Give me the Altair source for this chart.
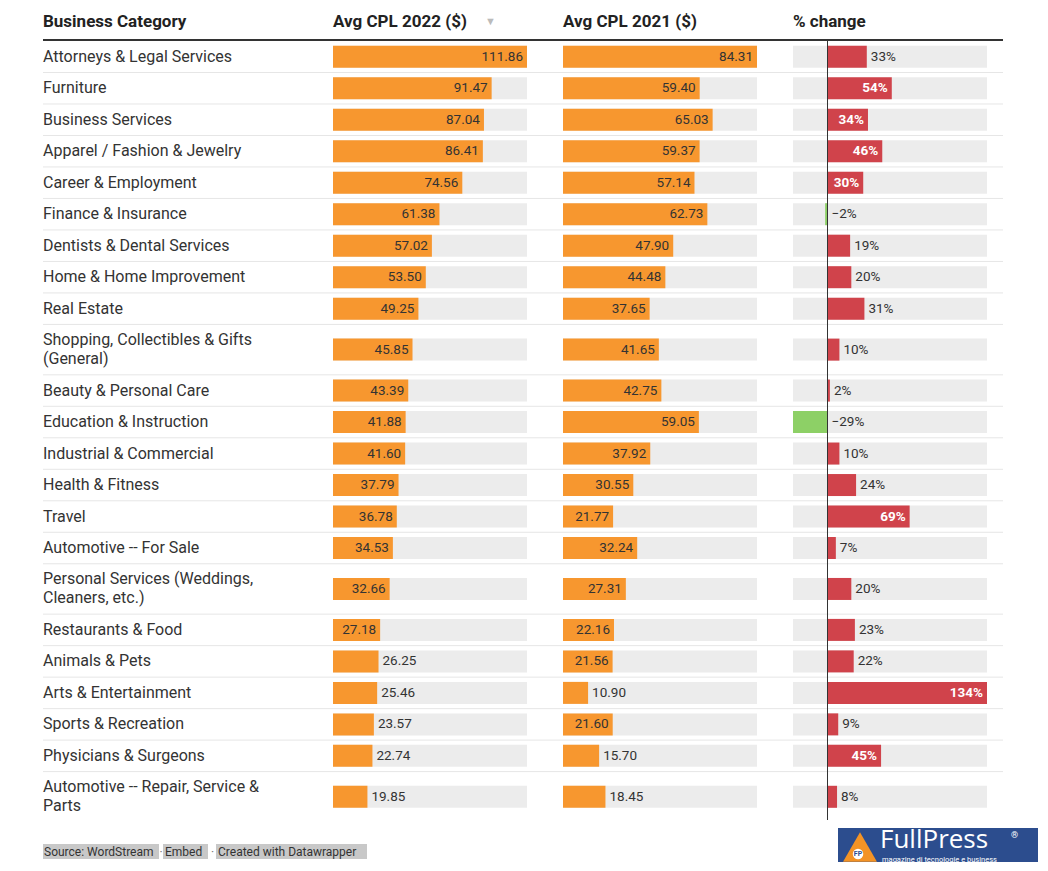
import altair as alt
import pandas as pd

categories = [
    "Attorneys & Legal Services", "Furniture", "Business Services",
    "Apparel / Fashion & Jewelry", "Career & Employment", "Finance & Insurance",
    "Dentists & Dental Services", "Home & Home Improvement", "Real Estate",
    "Shopping, Collectibles & Gifts\n(General)", "Beauty & Personal Care",
    "Education & Instruction", "Industrial & Commercial", "Health & Fitness",
    "Travel", "Automotive -- For Sale", "Personal Services (Weddings,\nCleaners, etc.)",
    "Restaurants & Food", "Animals & Pets", "Arts & Entertainment",
    "Sports & Recreation", "Physicians & Surgeons",
    "Automotive -- Repair, Service &\nParts",
]
cpl_2022 = [111.86, 91.47, 87.04, 86.41, 74.56, 61.38, 57.02, 53.50, 49.25, 45.85,
            43.39, 41.88, 41.60, 37.79, 36.78, 34.53, 32.66, 27.18, 26.25, 25.46,
            23.57, 22.74, 19.85]
cpl_2021 = [84.31, 59.40, 65.03, 59.37, 57.14, 62.73, 47.90, 44.48, 37.65, 41.65,
            42.75, 59.05, 37.92, 30.55, 21.77, 32.24, 27.31, 22.16, 21.56, 10.90,
            21.60, 15.70, 18.45]
pct_change = [33, 54, 34, 46, 30, -2, 19, 20, 31, 10, 2, -29, 10, 24, 69, 7, 20, 23,
              22, 134, 9, 45, 8]
pct_label_inside = [False, True, True, True, True, False, False, False, False, False,
                    False, False, False, False, True, False, False, False, False, True,
                    False, True, False]
headers = ["Business Category", "Avg CPL 2022 ($)", "Avg CPL 2021 ($)", "% change"]
footer_parts = ["Source: WordStream", "Embed", "Created with Datawrapper"]

FONT = "Roboto"
ORANGE = "#f7972f"
RED = "#d0434b"
GREEN = "#8dd066"
BG = "#ececec"
LINE = "#e6e6e6"
TEXT = "#333333"
BAR_W = 194
BAR_H = 22
H = 781

rows = pd.DataFrame({
    "category": categories,
    "cpl_2022": cpl_2022,
    "cpl_2021": cpl_2021,
    "pct": pct_change,
    "pct_in": pct_label_inside,
})
rows["multi"] = ["\n" in c for c in categories]
rows["h"] = [1.6 if m else 1.0 for m in rows["multi"]]
rows["top"] = rows["h"].cumsum() - rows["h"]
rows["center"] = rows["top"] + rows["h"] / 2
rows["bottom"] = rows["top"] + rows["h"]
rows["is_last"] = rows.index == len(rows) - 1
total = float(rows["h"].sum())

max22, max21 = max(cpl_2022), max(cpl_2021)
pmin, pmax = min(pct_change), max(pct_change)
rows["max22"] = max22
rows["max21"] = max21
rows["pmin"] = pmin
rows["pmax"] = pmax
rows["in22"] = rows["cpl_2022"] / max22 * BAR_W >= 46.5
rows["in21"] = rows["cpl_2021"] / max21 * BAR_W >= 46.5
rows["pct_label"] = [("\u2212" if v < 0 else "") + f"{abs(v)}%" for v in pct_change]
rows["pct_anchor"] = [v if i else max(v, 0) for v, i in zip(pct_change, pct_label_inside)]

yscale = alt.Scale(domain=[0, total], reverse=True, nice=False, zero=False)
Y = alt.Y("center:Q", scale=yscale, axis=None)
one = pd.DataFrame({"z": [0]})


def header_layers(idx, width):
    txt = alt.Chart(pd.DataFrame({"t": [headers[idx]]})).mark_text(
        align="left", baseline="alphabetic", font=FONT, fontSize=17,
        fontWeight="bold", color="#222222"
    ).encode(x=alt.value(0), y=alt.value(-14), text="t:N")
    rule = alt.Chart(one).mark_rule(color="#333333", strokeWidth=2).encode(
        x=alt.value(0), x2=alt.value(width), y=alt.value(-1))
    sep = alt.Chart(rows).transform_filter("!datum.is_last").mark_rule(
        color=LINE, strokeWidth=1
    ).encode(x=alt.value(0), x2=alt.value(width),
             y=alt.Y("bottom:Q", scale=yscale, axis=None))
    return [sep, rule, txt]


# Panel A: categories
WA = 290
cat_single = alt.Chart(rows).transform_filter("!datum.multi").mark_text(
    align="left", baseline="middle", font=FONT, fontSize=16, color=TEXT
).encode(x=alt.value(0), y=Y, text="category:N")
cat_multi = alt.Chart(rows).transform_filter("datum.multi").mark_text(
    align="left", baseline="middle", font=FONT, fontSize=16, lineHeight=19,
    dy=-9.5, color=TEXT, lineBreak="\n"
).encode(x=alt.value(0), y=Y, text="category:N")
panelA = alt.layer(*header_layers(0, WA), cat_single, cat_multi).properties(
    width=WA, height=H)


def cpl_panel(idx, field, maxfield, infield, width, arrow=False):
    xs = alt.Scale(domain=[0, max(rows[field])], range=[0, BAR_W], nice=False, zero=False)
    bg = alt.Chart(rows).mark_rule(strokeWidth=BAR_H, color=BG).encode(
        x=alt.X(f"{maxfield}:Q", scale=xs, axis=None), x2=alt.datum(0), y=Y)
    bar = alt.Chart(rows).mark_rule(strokeWidth=BAR_H, color=ORANGE).encode(
        x=alt.X(f"{field}:Q", scale=xs, axis=None), x2=alt.datum(0), y=Y)
    lab_in = alt.Chart(rows).transform_filter(f"datum.{infield}").mark_text(
        align="right", baseline="middle", dx=-4, font=FONT, fontSize=13.5, color=TEXT
    ).encode(x=alt.X(f"{field}:Q", scale=xs, axis=None), y=Y,
             text=alt.Text(f"{field}:Q", format=".2f"))
    lab_out = alt.Chart(rows).transform_filter(f"!datum.{infield}").mark_text(
        align="left", baseline="middle", dx=4, font=FONT, fontSize=13.5, color=TEXT
    ).encode(x=alt.X(f"{field}:Q", scale=xs, axis=None), y=Y,
             text=alt.Text(f"{field}:Q", format=".2f"))
    layers = header_layers(idx, width) + [bg, bar, lab_in, lab_out]
    if arrow:
        layers.append(alt.Chart(one).mark_text(
            align="left", baseline="alphabetic", fontSize=11, color="#bbbbbb",
            text="\u25bc").encode(x=alt.value(152), y=alt.value(-16)))
    return alt.layer(*layers).properties(width=width, height=H)


panelB = cpl_panel(1, "cpl_2022", "max22", "in22", 230, arrow=True)
panelC = cpl_panel(2, "cpl_2021", "max21", "in21", 230)

# Panel D: % change
WD = 210
xp = alt.Scale(domain=[pmin, pmax], range=[0, BAR_W], nice=False, zero=False)
bgD = alt.Chart(rows).mark_rule(strokeWidth=BAR_H, color=BG).encode(
    x=alt.X("pmax:Q", scale=xp, axis=None), x2="pmin:Q", y=Y)
barD = alt.Chart(rows).mark_rule(strokeWidth=BAR_H).encode(
    x=alt.X("pct:Q", scale=xp, axis=None), x2=alt.datum(0), y=Y,
    color=alt.when(alt.datum.pct < 0).then(alt.value(GREEN)).otherwise(alt.value(RED)))
zero = alt.Chart(one).mark_rule(color="#333333", strokeWidth=1).encode(
    x=alt.X("z:Q", scale=xp, axis=None), y=alt.value(0), y2=alt.value(H - 2))
labD_in = alt.Chart(rows).transform_filter("datum.pct_in").mark_text(
    align="right", baseline="middle", dx=-4, font=FONT, fontSize=13.5,
    fontWeight="bold", color="white"
).encode(x=alt.X("pct_anchor:Q", scale=xp, axis=None), y=Y, text="pct_label:N")
labD_out = alt.Chart(rows).transform_filter("!datum.pct_in").mark_text(
    align="left", baseline="middle", dx=4, font=FONT, fontSize=13.5, color=TEXT
).encode(x=alt.X("pct_anchor:Q", scale=xp, axis=None), y=Y, text="pct_label:N")
panelD = alt.layer(*header_layers(3, WD), bgD, barD, zero, labD_in, labD_out).properties(
    width=WD, height=H)

# Footer
WF = 995


def box(x0, x1):
    return alt.Chart(one).mark_rect(color="#c8c8c8").encode(
        x=alt.value(x0), x2=alt.value(x1), y=alt.value(22), y2=alt.value(37))


def ftxt(t, x, color=TEXT, size=12, **kw):
    return alt.Chart(pd.DataFrame({"t": [t]})).mark_text(
        align="left", baseline="middle", font=FONT, fontSize=size, color=color, **kw
    ).encode(x=alt.value(x), y=alt.value(29.5), text="t:N")


footer_layers = [
    box(0, 116), box(120, 165), box(173, 324),
    ftxt(footer_parts[0], 1), ftxt("\u00b7", 116.5, color="#777777"),
    ftxt(footer_parts[1], 122), ftxt("\u00b7", 168, color="#777777"),
    ftxt(footer_parts[2], 175),
    # logo
    alt.Chart(one).mark_rect(color="#2c4d8e").encode(
        x=alt.value(795), x2=alt.value(995), y=alt.value(6), y2=alt.value(40)),
    alt.Chart(one).mark_point(shape="triangle-up", filled=True, size=1150,
                              color="#f39325", opacity=1).encode(
        x=alt.value(817), y=alt.value(25)),
    alt.Chart(one).mark_point(shape="circle", filled=True, size=110,
                              color="white", opacity=1).encode(
        x=alt.value(815), y=alt.value(32)),
    alt.Chart(pd.DataFrame({"t": ["FP"]})).mark_text(
        align="center", baseline="middle", font=FONT, fontSize=7, fontWeight="bold",
        color="#2c4d8e").encode(x=alt.value(815), y=alt.value(32), text="t:N"),
    alt.Chart(pd.DataFrame({"t": ["FullPress"]})).mark_text(
        align="left", baseline="alphabetic", font="Open Sans", fontSize=26,
        color="white").encode(x=alt.value(837), y=alt.value(26), text="t:N"),
    alt.Chart(pd.DataFrame({"t": ["\u00ae"]})).mark_text(
        align="left", baseline="middle", font=FONT, fontSize=9,
        color="white").encode(x=alt.value(968), y=alt.value(13), text="t:N"),
    alt.Chart(pd.DataFrame({"t": ["magazine di tecnologie e business"]})).mark_text(
        align="left", baseline="alphabetic", font=FONT, fontSize=7.5,
        color="white").encode(x=alt.value(839), y=alt.value(39.5), text="t:N"),
]
footer = alt.layer(*footer_layers).properties(width=WF, height=40)

table = alt.hconcat(panelA, panelB, panelC, panelD, spacing=0, bounds="flush")
chart = alt.vconcat(table, footer, spacing=0).properties(
    padding={"left": 34, "top": 5, "right": 0, "bottom": 0},
    background="white",
).configure_view(stroke=None)

chart.save("out.html", embed_options={"renderer": "svg", "actions": False})
